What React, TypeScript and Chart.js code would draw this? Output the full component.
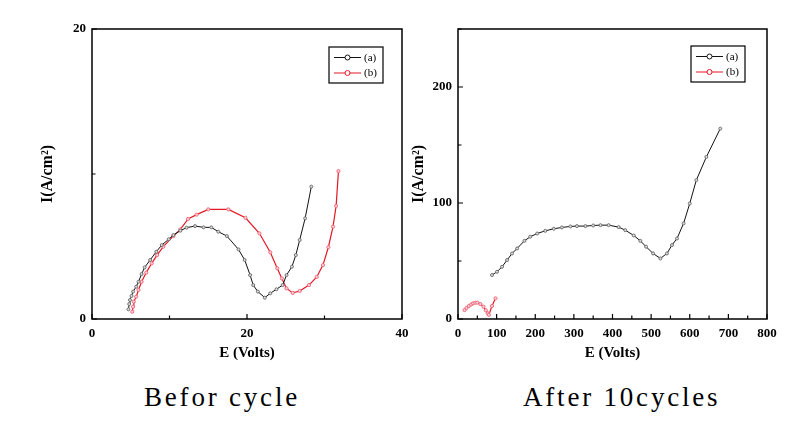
import React, { useEffect, useRef } from "react";
import { Chart, registerables } from "chart.js";
Chart.register(...registerables);

// ---- Data: "Befor cycle" ----
const beforeA_E = [4.7, 4.8, 4.9, 5.1, 5.3, 5.7, 6.0, 6.4, 6.8, 7.5, 8.3, 9.0, 9.9, 10.5, 11.4, 12.2, 13.3, 14.4, 15.4, 16.3, 17.4, 18.9, 19.7, 20.4, 20.8, 21.4, 22.3, 23.0, 23.8, 24.6, 25.1, 25.8, 26.3, 26.8, 27.5, 28.3];
const beforeA_I = [0.67, 1.03, 1.31, 1.59, 1.89, 2.23, 2.57, 3.1, 3.56, 4.07, 4.64, 5.1, 5.5, 5.79, 6.09, 6.3, 6.41, 6.32, 6.32, 6.02, 5.72, 4.8, 4.07, 3.03, 2.34, 1.89, 1.47, 1.77, 2.05, 2.34, 3.03, 3.61, 4.41, 5.45, 6.94, 9.13];
const beforeB_E = [5.2, 5.3, 5.4, 5.7, 6.0, 6.4, 7.0, 7.7, 8.4, 9.2, 10.5, 11.4, 12.4, 13.5, 15.0, 17.6, 19.8, 21.6, 23.0, 23.9, 24.5, 25.1, 25.9, 26.8, 28.0, 29.0, 29.8, 30.5, 31.1, 31.5, 31.8];
const beforeB_I = [0.5, 0.85, 1.2, 1.54, 2.0, 2.57, 3.2, 3.84, 4.41, 4.99, 5.72, 6.18, 6.9, 7.2, 7.56, 7.56, 6.98, 5.91, 4.6, 3.5, 2.8, 2.11, 1.8, 1.93, 2.34, 2.9, 3.72, 4.95, 6.37, 7.8, 10.2];

// ---- Data: "After 10cycles" ----
const afterA_E = [88, 101, 114, 127, 140, 153, 172, 187, 205, 226, 248, 269, 291, 308, 330, 350, 369, 390, 416, 433, 455, 472, 487, 505, 524, 541, 554, 567, 584, 600, 617, 643, 679];
const afterA_I = [37.9, 40.7, 45.0, 50.8, 56.5, 60.8, 67.4, 70.9, 73.7, 76.0, 77.8, 78.9, 79.8, 80.1, 80.1, 80.6, 80.9, 80.9, 79.2, 76.6, 72.0, 67.4, 62.3, 56.5, 52.2, 56.5, 63.7, 69.4, 82.4, 99.6, 119.7, 139.7, 164.1];
const afterB_E = [17, 22, 28, 34, 39, 45, 50, 58, 66, 72, 77, 80, 88, 97];
const afterB_I = [7.7, 9.5, 11.2, 12.5, 13.5, 14.0, 14.1, 12.9, 10.6, 7.5, 4.9, 3.6, 11.2, 17.8];

const seriesLabels = ["(a)", "(b)"];
const beforeXLabels = [0, 20, 40];
const beforeYLabels = [0, 20];
const afterXLabels = [0, 100, 200, 300, 400, 500, 600, 700, 800];
const afterYLabels = [0, 100, 200];
const captions = ["Befor cycle", "After 10cycles"];
const xTitle = "E (Volts)";
const yTitle = "I(A/cm\u00B2)";

const SERIF = "'Liberation Serif', 'Times New Roman', serif";
const BLACK_LINE = "#111";
const BLACK_PT = "#666";
const RED_LINE = "rgb(228,24,36)";
const RED_PT = "rgb(236,100,112)";

function toXY(xs: number[], ys: number[]) {
  return xs.map((x, i) => ({ x, y: ys[i] }));
}

type Spec = {
  aE: number[]; aI: number[]; bE: number[]; bI: number[];
  xMax: number; xStep: number; yMax: number; yStep: number;
  xLabels: number[]; yLabels: number[];
  padRight: number; yWidth: number; yTitlePad: number;
  legendRight: number; legendTop: number;
};

function makeChart(canvas: HTMLCanvasElement, s: Spec) {
  const frameTicks = {
    id: "frameTicks",
    afterDraw(chart: any) {
      const { ctx, chartArea: a } = chart;
      const xs = chart.scales.x;
      const ys = chart.scales.y;
      ctx.save();
      ctx.strokeStyle = "#000";
      ctx.lineWidth = 1.2;
      ctx.beginPath();
      xs.ticks.forEach((t: any) => {
        const px = xs.getPixelForValue(t.value);
        const len = s.xLabels.includes(t.value) ? 5 : 3.5;
        ctx.moveTo(px, a.bottom);
        ctx.lineTo(px, a.bottom - len);
      });
      ys.ticks.forEach((t: any) => {
        const py = ys.getPixelForValue(t.value);
        const len = s.yLabels.includes(t.value) ? 5 : 3.5;
        ctx.moveTo(a.left, py);
        ctx.lineTo(a.left + len, py);
      });
      ctx.stroke();
      ctx.lineWidth = 1.5;
      ctx.strokeRect(a.left, a.top, a.right - a.left, a.bottom - a.top);
      ctx.restore();
    },
  };
  const boxLegend = {
    id: "boxLegend",
    afterDraw(chart: any) {
      const { ctx, chartArea: a } = chart;
      const w = 54, h = 36;
      const L = a.right - s.legendRight - w;
      const T = a.top + s.legendTop;
      ctx.save();
      ctx.strokeStyle = "#000";
      ctx.lineWidth = 1.2;
      ctx.strokeRect(L, T, w, h);
      chart.data.datasets.forEach((ds: any, i: number) => {
        const y = T + 10.5 + i * 15.5;
        ctx.strokeStyle = ds.borderColor;
        ctx.lineWidth = 1;
        ctx.beginPath();
        ctx.moveTo(L + 5, y);
        ctx.lineTo(L + 32, y);
        ctx.stroke();
        ctx.beginPath();
        ctx.arc(L + 18.5, y, 2.5, 0, Math.PI * 2);
        ctx.fillStyle = "#fff";
        ctx.fill();
        ctx.strokeStyle = ds.borderColor;
        ctx.stroke();
        ctx.fillStyle = "#000";
        ctx.font = `11px ${SERIF}`;
        ctx.textBaseline = "middle";
        ctx.textAlign = "left";
        ctx.fillText(ds.label, L + 35, y + 0.5);
      });
      ctx.restore();
    },
  };

  const tickFont = { family: SERIF, weight: "bold" as const, size: 13 };
  const titleFont = { family: SERIF, weight: "bold" as const, size: 15 };

  return new Chart(canvas, {
    type: "scatter",
    data: {
      datasets: [
        {
          label: seriesLabels[0],
          data: toXY(s.aE, s.aI),
          showLine: true,
          borderColor: BLACK_LINE,
          borderWidth: 1,
          pointRadius: 1.5,
          pointBorderWidth: 0.9,
          pointBackgroundColor: "#ddd",
          pointBorderColor: BLACK_PT,
        },
        {
          label: seriesLabels[1],
          data: toXY(s.bE, s.bI),
          showLine: true,
          borderColor: RED_LINE,
          borderWidth: 1.2,
          pointRadius: 1.6,
          pointBorderWidth: 0.9,
          pointBackgroundColor: "#fcd",
          pointBorderColor: RED_PT,
        },
      ],
    },
    options: {
      responsive: false,
      animation: false,
      layout: { padding: { left: 0, top: 29, right: s.padRight, bottom: 0 } },
      plugins: { legend: { display: false }, tooltip: { enabled: false } },
      scales: {
        x: {
          type: "linear",
          min: 0,
          max: s.xMax,
          grid: { display: false, drawTicks: false },
          border: { display: false },
          ticks: {
            stepSize: s.xStep,
            autoSkip: false,
            maxRotation: 0,
            padding: 7,
            color: "#000",
            font: tickFont,
            callback: (v: any) => (s.xLabels.includes(v) ? String(v) : ""),
          },
          title: { display: true, text: xTitle, color: "#000", font: titleFont, padding: { top: 0, bottom: 8 } },
          afterFit: (sc: any) => { sc.height = 51; },
        },
        y: {
          type: "linear",
          min: 0,
          max: s.yMax,
          grid: { display: false, drawTicks: false },
          border: { display: false },
          ticks: {
            stepSize: s.yStep,
            autoSkip: false,
            padding: 6,
            color: "#000",
            font: tickFont,
            callback: (v: any) => (s.yLabels.includes(v) ? String(v) : ""),
          },
          title: { display: true, text: yTitle, color: "#000", font: { ...titleFont, size: 16 }, padding: { top: s.yTitlePad, bottom: 0 } },
          afterFit: (sc: any) => { sc.width = s.yWidth; },
        },
      },
    },
    plugins: [frameTicks, boxLegend],
  } as any);
}

function Panel(props: { spec: Spec; left: number; width: number }) {
  const ref = useRef<HTMLCanvasElement>(null);
  useEffect(() => {
    if (!ref.current) return;
    const ch = makeChart(ref.current, props.spec);
    return () => ch.destroy();
  }, []);
  return (
    <canvas
      ref={ref}
      width={props.width}
      height={370}
      style={{ position: "absolute", left: props.left, top: 0, width: props.width, height: 370 }}
    />
  );
}

const beforeSpec: Spec = {
  aE: beforeA_E, aI: beforeA_I, bE: beforeB_E, bI: beforeB_I,
  xMax: 40, xStep: 10, yMax: 20, yStep: 10,
  xLabels: beforeXLabels, yLabels: beforeYLabels,
  padRight: 18, yWidth: 92, yTitlePad: 38,
  legendRight: 19, legendTop: 18,
};

const afterSpec: Spec = {
  aE: afterA_E, aI: afterA_I, bE: afterB_E, bI: afterB_I,
  xMax: 800, xStep: 50, yMax: 250, yStep: 50,
  xLabels: afterXLabels, yLabels: afterYLabels,
  padRight: 37, yWidth: 68, yTitlePad: 19.5,
  legendRight: 22, legendTop: 17,
};

const captionStyle: React.CSSProperties = {
  position: "absolute",
  top: 384,
  fontFamily: SERIF,
  fontSize: 27,
  lineHeight: "27px",
  letterSpacing: "2.8px",
  whiteSpace: "pre",
  color: "#000",
};

export default function App() {
  return (
    <div style={{ position: "absolute", left: 0, top: 0, width: 804, height: 427, background: "#fff", overflow: "hidden" }}>
      <Panel spec={beforeSpec} left={0} width={420} />
      <Panel spec={afterSpec} left={390} width={414} />
      <div style={{ ...captionStyle, left: 144 }}>{captions[0]}</div>
      <div style={{ ...captionStyle, left: 523 }}>{captions[1]}</div>
    </div>
  );
}
